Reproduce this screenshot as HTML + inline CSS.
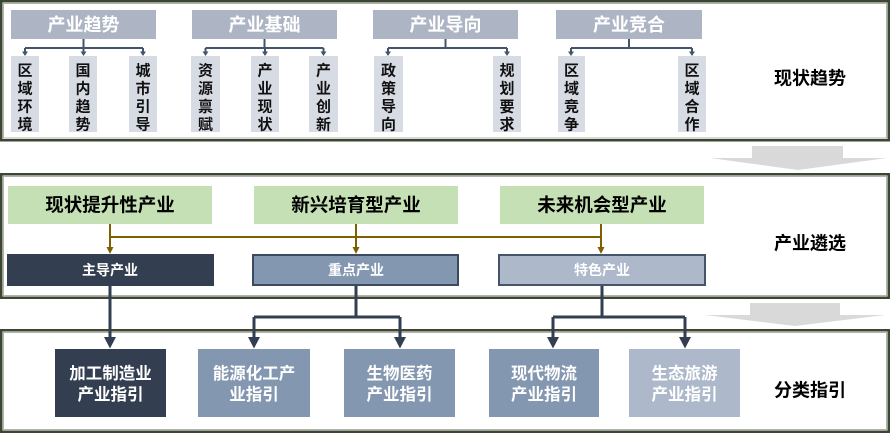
<!DOCTYPE html>
<html>
<head>
<meta charset="utf-8">
<style>
html,body{margin:0;padding:0;background:#fff;}
svg{display:block;}
text{font-family:"Liberation Sans","Noto Sans CJK SC",sans-serif;font-weight:bold;}
</style>
</head>
<body>
<svg width="891" height="433" viewBox="0 0 891 433" xmlns="http://www.w3.org/2000/svg">
  <!-- Frames -->
  <rect x="1.25" y="1.25" width="887.5" height="139" fill="#fff" stroke="#3b4633" stroke-width="2.5"/>
  <rect x="3.5" y="3.5" width="883" height="134.5" fill="none" stroke="#b2b3aa" stroke-width="1"/>

  <rect x="1.25" y="174.25" width="887.5" height="123.5" fill="#fff" stroke="#3b4633" stroke-width="2.5"/>
  <rect x="3.5" y="176.5" width="883" height="119" fill="none" stroke="#b2b3aa" stroke-width="1"/>

  <rect x="1.25" y="330.25" width="887.5" height="101.5" fill="#fff" stroke="#3b4633" stroke-width="2.5"/>
  <rect x="3.5" y="332.5" width="883" height="97" fill="none" stroke="#b2b3aa" stroke-width="1"/>

  <!-- Gray block arrows -->
  <polygon points="752,146 843,146 843,158 887,158 798,170 710,158 752,158" fill="#d9d9d9"/>
  <polygon points="750,303 840,303 840,315 885,315 795,326 705,315 750,315" fill="#d9d9d9"/>

  <!-- ===== Section 1 ===== -->
  <g fill="#adb5c5">
    <rect x="11" y="10" width="145" height="29"/>
    <rect x="192" y="10" width="145" height="29"/>
    <rect x="373" y="10" width="145" height="29"/>
    <rect x="556" y="10" width="146" height="29"/>
  </g>
  <g fill="#fff" font-size="18" text-anchor="middle">
    <text x="83.5" y="31">产业趋势</text>
    <text x="264.5" y="31">产业基础</text>
    <text x="445.5" y="31">产业导向</text>
    <text x="629" y="31">产业竞合</text>
  </g>

  <!-- connectors section 1 -->
  <g stroke="#44546a" stroke-width="2" fill="none">
    <path d="M83.5 39 V48 M25 48 H143 M25 48 V52 M83.5 48 V52 M143 48 V52"/>
    <path d="M264.5 39 V48 M205.5 48 H323.5 M205.5 48 V52 M265 48 V52 M323.5 48 V52"/>
    <path d="M445.5 39 V48 M388 48 H507 M388 48 V52 M507 48 V52"/>
    <path d="M629 39 V48 M571 48 H692 M571 48 V52 M692 48 V52"/>
  </g>
  <g fill="#44546a">
    <polygon points="22,51.5 28,51.5 25,56"/>
    <polygon points="80.5,51.5 86.5,51.5 83.5,56"/>
    <polygon points="140,51.5 146,51.5 143,56"/>
    <polygon points="202.5,51.5 208.5,51.5 205.5,56"/>
    <polygon points="262,51.5 268,51.5 265,56"/>
    <polygon points="320.5,51.5 326.5,51.5 323.5,56"/>
    <polygon points="385,51.5 391,51.5 388,56"/>
    <polygon points="504,51.5 510,51.5 507,56"/>
    <polygon points="568,51.5 574,51.5 571,56"/>
    <polygon points="689,51.5 695,51.5 692,56"/>
  </g>

  <!-- sub boxes -->
  <g fill="#d7dce4">
    <rect x="11" y="56" width="28" height="76"/>
    <rect x="69" y="56" width="28" height="76"/>
    <rect x="129" y="56" width="28" height="76"/>
    <rect x="191" y="56" width="29" height="76"/>
    <rect x="251" y="56" width="28" height="76"/>
    <rect x="309" y="56" width="29" height="76"/>
    <rect x="374" y="56" width="29" height="76"/>
    <rect x="493" y="56" width="28" height="76"/>
    <rect x="558" y="56" width="27" height="76"/>
    <rect x="678" y="56" width="28" height="76"/>
  </g>
  <g fill="#111" font-size="15" text-anchor="middle">
    <text x="25" y="75.5">区</text><text x="25" y="93.5">域</text><text x="25" y="111.5">环</text><text x="25" y="129.5">境</text>
    <text x="83" y="75.5">国</text><text x="83" y="93.5">内</text><text x="83" y="111.5">趋</text><text x="83" y="129.5">势</text>
    <text x="143" y="75.5">城</text><text x="143" y="93.5">市</text><text x="143" y="111.5">引</text><text x="143" y="129.5">导</text>
    <text x="205.5" y="75.5">资</text><text x="205.5" y="93.5">源</text><text x="205.5" y="111.5">禀</text><text x="205.5" y="129.5">赋</text>
    <text x="265" y="75.5">产</text><text x="265" y="93.5">业</text><text x="265" y="111.5">现</text><text x="265" y="129.5">状</text>
    <text x="323.5" y="75.5">产</text><text x="323.5" y="93.5">业</text><text x="323.5" y="111.5">创</text><text x="323.5" y="129.5">新</text>
    <text x="388.5" y="75.5">政</text><text x="388.5" y="93.5">策</text><text x="388.5" y="111.5">导</text><text x="388.5" y="129.5">向</text>
    <text x="507" y="75.5">规</text><text x="507" y="93.5">划</text><text x="507" y="111.5">要</text><text x="507" y="129.5">求</text>
    <text x="571.5" y="75.5">区</text><text x="571.5" y="93.5">域</text><text x="571.5" y="111.5">竞</text><text x="571.5" y="129.5">争</text>
    <text x="692" y="75.5">区</text><text x="692" y="93.5">域</text><text x="692" y="111.5">合</text><text x="692" y="129.5">作</text>
  </g>
  <text x="810" y="84.5" font-size="18" fill="#000" text-anchor="middle">现状趋势</text>

  <!-- ===== Section 2 ===== -->
  <g fill="#c5e0b4">
    <rect x="8" y="186" width="204" height="38"/>
    <rect x="254" y="186" width="204" height="38"/>
    <rect x="500" y="186" width="204" height="38"/>
  </g>
  <g fill="#000" font-size="18.5" text-anchor="middle">
    <text x="110" y="211.5">现状提升性产业</text>
    <text x="356" y="211.5">新兴培育型产业</text>
    <text x="602" y="211.5">未来机会型产业</text>
  </g>
  <g stroke="#7f6000" stroke-width="2" fill="none">
    <path d="M110 224 V248 M356 224 V248 M601 224 V248 M110 237 H601"/>
  </g>
  <g fill="#7f6000">
    <polygon points="106.5,247 113.5,247 110,254"/>
    <polygon points="352.5,247 359.5,247 356,254"/>
    <polygon points="597.5,247 604.5,247 601,254"/>
  </g>

  <!-- connectors section 3 (drawn under boxes) -->
  <g stroke="#333f50" stroke-width="3" fill="none">
    <path d="M110 286 V340"/>
    <path d="M356 286 V317 M254 317 H400 M254 317 V340 M400 317 V340"/>
    <path d="M602 286 V317 M553 317 H685 M553 317 V340 M685 317 V340"/>
  </g>
  <g fill="#333f50">
    <polygon points="104,337 116,337 110,348.5"/>
    <polygon points="248,337 260,337 254,348.5"/>
    <polygon points="394,337 406,337 400,348.5"/>
    <polygon points="547,337 559,337 553,348.5"/>
    <polygon points="679,337 691,337 685,348.5"/>
  </g>

  <rect x="7" y="254" width="207" height="32" fill="#333f50"/>
  <rect x="253" y="255" width="205" height="30" fill="#8497b0" stroke="#3b4a5e" stroke-width="2"/>
  <rect x="499" y="255" width="206" height="30" fill="#adb9ca" stroke="#44546a" stroke-width="2"/>
  <g fill="#fff" font-size="14" text-anchor="middle">
    <text x="110" y="275">主导产业</text>
    <text x="356" y="275">重点产业</text>
    <text x="602" y="275">特色产业</text>
  </g>
  <text x="810" y="249.5" font-size="18" fill="#000" text-anchor="middle">产业遴选</text>

  <!-- ===== Section 3 ===== -->
  <rect x="55" y="349" width="111" height="68" fill="#333f50"/>
  <rect x="198" y="349" width="112" height="68" fill="#8497b0"/>
  <rect x="344" y="349" width="111" height="68" fill="#8497b0"/>
  <rect x="489" y="349" width="110" height="68" fill="#8497b0"/>
  <rect x="629" y="349" width="111" height="68" fill="#adb9ca"/>
  <g fill="#fff" font-size="16.5" text-anchor="middle">
    <text x="110.5" y="379">加工制造业</text>
    <text x="110.5" y="400">产业指引</text>
    <text x="254" y="379">能源化工产</text>
    <text x="254" y="400">业指引</text>
    <text x="399.5" y="379">生物医药</text>
    <text x="399.5" y="400">产业指引</text>
    <text x="544" y="379">现代物流</text>
    <text x="544" y="400">产业指引</text>
    <text x="684.5" y="379">生态旅游</text>
    <text x="684.5" y="400">产业指引</text>
  </g>
  <text x="810" y="396.5" font-size="18" fill="#000" text-anchor="middle">分类指引</text>
</svg>
</body>
</html>
